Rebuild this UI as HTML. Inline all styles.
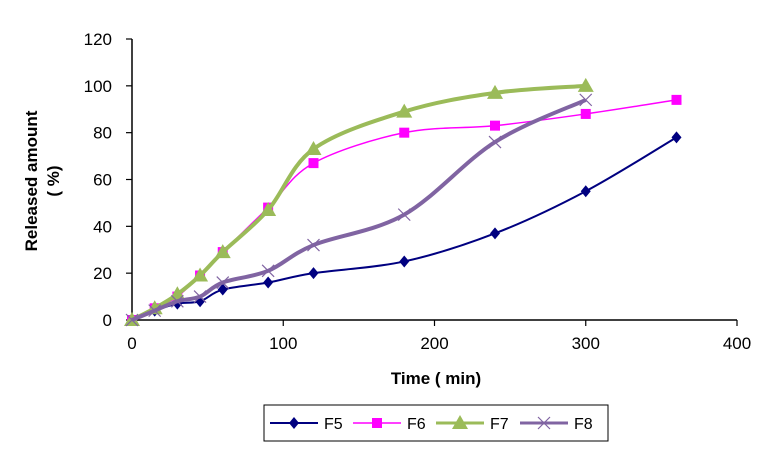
<!DOCTYPE html>
<html><head><meta charset="utf-8"><style>
body{margin:0;background:#fff;}
svg{display:block;font-family:"Liberation Sans",Arial,sans-serif;}
</style></head><body>
<svg id="chart" width="782" height="466" viewBox="0 0 782 466">
<g id="axes"></g><g id="series"></g><g id="legend"></g>
</svg>
<script>
const xTicks=[0,100,200,300,400];
const yTicks=[0,20,40,60,80,100,120];
const timesLong=[0,15,30,45,60,90,120,180,240,300,360];
const timesShort=[0,15,30,45,60,90,120,180,240,300];
const f5=[0,4,7,8,13,16,20,25,37,55,78];
const f6=[0,5,10,19,29,48,67,80,83,88,94];
const f7=[0,5,11,19,29,47,73,89,97,100];
const f8=[0,4,8,10,16,21,32,45,76,94];

const NS="http://www.w3.org/2000/svg";
const X=v=>132+v*605/400;
const Y=v=>320-v*281/120;
function mk(tag,attrs,parent,txt){const e=document.createElementNS(NS,tag);for(const k in attrs)e.setAttribute(k,attrs[k]);if(txt!==undefined)e.textContent=txt;parent.appendChild(e);return e;}
const axes=document.getElementById('axes');
let e;
e=mk('line',{x1:132,y1:39,x2:132,y2:320,stroke:'#000','stroke-width':1.5},axes);


e=mk('line',{x1:132,y1:320,x2:737,y2:320,stroke:'#000','stroke-width':1.5},axes);


yTicks.forEach(t=>{
  mk('line',{x1:126,y1:Y(t),x2:132,y2:Y(t),stroke:'#000','stroke-width':1.2},axes);
  e=mk('text',{x:112,y:Y(t)+6,'text-anchor':'end','font-size':17},axes,String(t));
  
  
});
xTicks.forEach(t=>{
  mk('line',{x1:X(t),y1:320,x2:X(t),y2:326,stroke:'#000','stroke-width':1.2},axes);
  e=mk('text',{x:X(t),y:349,'text-anchor':'middle','font-size':17},axes,String(t));
  
  
});
e=mk('text',{x:436,y:384,'text-anchor':'middle','font-size':17,'font-weight':'bold'},axes,'Time ( min)');


const yt=mk('text',{transform:'translate(37,181) rotate(-90)','text-anchor':'middle','font-size':17,'font-weight':'bold'},axes);


mk('tspan',{x:0,y:0},yt,'Released amount');
mk('tspan',{x:0,y:22},yt,'( %)');

function smooth(pts){
  let d=`M${pts[0][0]},${pts[0][1]}`;
  for(let i=0;i<pts.length-1;i++){
    const p0=pts[i-1]||pts[i],p1=pts[i],p2=pts[i+1],p3=pts[i+2]||p2;
    const c1=[p1[0]+(p2[0]-p0[0])/6,p1[1]+(p2[1]-p0[1])/6];
    const c2=[p2[0]-(p3[0]-p1[0])/6,p2[1]-(p3[1]-p1[1])/6];
    d+=` C${c1[0]},${c1[1]} ${c2[0]},${c2[1]} ${p2[0]},${p2[1]}`;
  }
  return d;
}
function marker(g,type,x,y,color){
  if(type==='diamond') return mk('polygon',{points:`${x},${y-6} ${x+5},${y} ${x},${y+6} ${x-5},${y}`,fill:color},g);
  if(type==='square') return mk('rect',{x:x-5,y:y-5,width:10,height:10,fill:color},g);
  if(type==='triangle') return mk('polygon',{points:`${x},${y-8} ${x+8},${y+6} ${x-8},${y+6}`,fill:color},g);
  const p=mk('path',{d:`M${x-6},${y-6}L${x+6},${y+6}M${x-6},${y+6}L${x+6},${y-6}`,stroke:color,'stroke-width':1.2,fill:'none'},g);return p;
}
const series=[
 {name:'F5',t:timesLong,v:f5,color:'#000080',w:2,m:'diamond',mc:'#000080'},
 {name:'F6',t:timesLong,v:f6,color:'#ff00ff',w:1.5,m:'square',mc:'#ff00ff'},
 {name:'F7',t:timesShort,v:f7,color:'#9bbb59',w:4,m:'triangle',mc:'#9bbb59'},
 {name:'F8',t:timesShort,v:f8,color:'#8064a2',w:4,m:'x',mc:'#8064a2'}
];
const sg=document.getElementById('series');
series.forEach(s=>{
  const g=mk('g',{},sg);
  
  
  const pts=s.t.map((t,i)=>[X(t),Y(s.v[i])]);
  const p=mk('path',{d:smooth(pts),fill:'none',stroke:s.color,'stroke-width':s.w},g);
  
  
  pts.forEach(q=>{
    const m=marker(g,s.m,q[0],q[1],s.mc);
    
    
  });
});
const lg=document.getElementById('legend');


mk('rect',{x:264,y:405,width:344,height:36,fill:'#fff',stroke:'#000','stroke-width':1},lg);
const lx=[270,353,436,520];
series.forEach((s,i)=>{
  const g=mk('g',{},lg);
  
  
  mk('line',{x1:lx[i],y1:423,x2:lx[i]+48,y2:423,stroke:s.color,'stroke-width':Math.min(s.w,3)},g);
  marker(g,s.m,lx[i]+24,423,s.mc);
  mk('text',{x:lx[i]+54,y:429,'font-size':16},g,s.name);
});
</script>
</body></html>
